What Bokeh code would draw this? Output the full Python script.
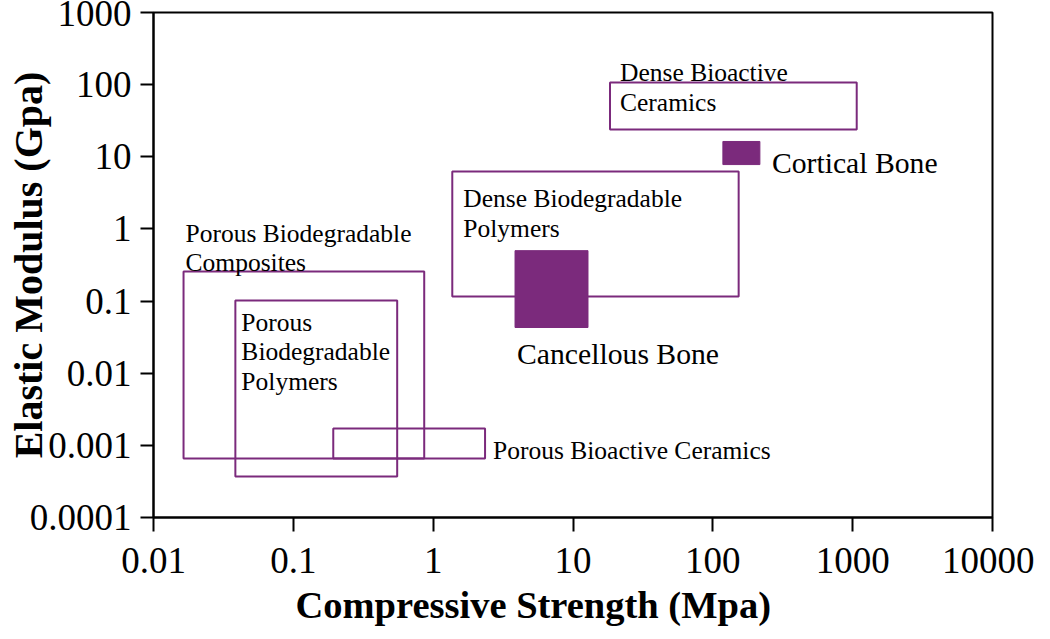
import math
from bokeh.plotting import figure
from bokeh.models import Range1d, FixedTicker, Label, Title
from bokeh.embed import file_html
from bokeh.resources import INLINE

# ---------------- data ----------------
x_ticks = [0.01, 0.1, 1, 10, 100, 1000, 10000]
x_tick_labels = ["0.01", "0.1", "1", "10", "100", "1000", "10000"]
y_ticks = [0.0001, 0.001, 0.01, 0.1, 1, 10, 100, 1000]
y_tick_labels = ["0.0001", "0.001", "0.01", "0.1", "1", "10", "100", "1000"]

region_names = ["Porous Biodegradable Composites", "Porous Biodegradable Polymers",
                "Porous Bioactive Ceramics", "Dense Biodegradable Polymers",
                "Cancellous Bone", "Dense Bioactive Ceramics", "Cortical Bone"]
strength_low = [0.0164, 0.0385, 0.193, 1.37, 3.85, 18.4, 118]
strength_high = [0.863, 0.553, 2.35, 153, 12.8, 1069, 217]
modulus_low = [0.000657, 0.00037, 0.000657, 0.116, 0.043, 23.9, 7.8]
modulus_high = [0.257, 0.102, 0.00171, 6.25, 0.50, 107, 16.3]
is_bone = [False, False, False, False, True, False, True]
label_lines = [["Porous Biodegradable", "Composites"],
               ["Porous", "Biodegradable", "Polymers"],
               ["Porous Bioactive Ceramics"],
               ["Dense Biodegradable", "Polymers"],
               ["Cancellous Bone"],
               ["Dense Bioactive", "Ceramics"],
               ["Cortical Bone"]]

x_title = "Compressive Strength (Mpa)"
y_title = "Elastic Modulus (Gpa)"

# ---------------- styles / layout ----------------
PURPLE = "#7b2a7c"
FONT = "Liberation Serif"
# anchor corner of the box, pixel offset (dx right, dy down) of first baseline, font size
label_style = [
    ("left", "top", 2, -38, "25.5px"),
    ("left", "top", 6, 22, "25.5px"),
    ("right", "bottom", 8, -8, "25.5px"),
    ("left", "top", 11, 27, "25.5px"),
    ("left", "bottom", 2, 26, "29.7px"),
    ("left", "top", 10, -10, "25.5px"),
    ("right", "bottom", 12, -2, "29.7px"),
]
LINE_H = 29.5

p = figure(width=1034, height=631, x_axis_type="log", y_axis_type="log",
           x_range=Range1d(x_ticks[0], x_ticks[-1]),
           y_range=Range1d(y_ticks[0], y_ticks[-1]),
           output_backend="svg", toolbar_location=None,
           min_border_left=153, min_border_right=42,
           min_border_top=12, min_border_bottom=114)
p.xgrid.visible = False
p.ygrid.visible = False
p.outline_line_color = "black"
p.outline_line_width = 2
p.outline_line_alpha = 1
p.background_fill_color = "white"
p.border_fill_color = "white"

for ax, ticks, labels, tick_len, standoff in ((p.xaxis[0], x_ticks, x_tick_labels, 14, 16),
                                              (p.yaxis[0], y_ticks, y_tick_labels, 13, 9)):
    ax.ticker = FixedTicker(ticks=ticks)
    ax.major_label_overrides = dict(zip(ticks, labels))
    ax.major_label_text_font = FONT
    ax.major_label_text_font_size = "37px"
    ax.major_label_text_color = "black"
    ax.axis_line_color = "black"
    ax.axis_line_width = 2
    ax.major_tick_line_color = "black"
    ax.major_tick_line_width = 2
    ax.major_tick_in = 0
    ax.major_tick_out = tick_len
    ax.minor_tick_line_color = None
    ax.major_label_standoff = standoff

# y axis title
p.yaxis[0].axis_label = y_title
p.yaxis[0].axis_label_text_font = FONT
p.yaxis[0].axis_label_text_font_size = "40px"
p.yaxis[0].axis_label_text_font_style = "bold"
p.yaxis[0].axis_label_text_color = "black"
p.yaxis[0].axis_label_standoff = -24

# x axis title
p.add_layout(Title(text=x_title, align="left", offset=142, standoff=12,
                   text_font=FONT, text_font_size="38.5px", text_font_style="bold",
                   text_color="black"), "below")

# boxes
open_idx = [i for i, b in enumerate(is_bone) if not b]
bone_idx = [i for i, b in enumerate(is_bone) if b]
p.quad(left=[strength_low[i] for i in open_idx], right=[strength_high[i] for i in open_idx],
       bottom=[modulus_low[i] for i in open_idx], top=[modulus_high[i] for i in open_idx],
       fill_color=None, line_color=PURPLE, line_width=2)
p.quad(left=[strength_low[i] for i in bone_idx], right=[strength_high[i] for i in bone_idx],
       bottom=[modulus_low[i] for i in bone_idx], top=[modulus_high[i] for i in bone_idx],
       fill_color=PURPLE, line_color=PURPLE, line_width=1)

# region labels
for i, lines in enumerate(label_lines):
    hx, vy, dx, dy, fs = label_style[i]
    ax_ = strength_low[i] if hx == "left" else strength_high[i]
    ay_ = modulus_high[i] if vy == "top" else modulus_low[i]
    for j, line in enumerate(lines):
        p.add_layout(Label(x=ax_, y=ay_, x_offset=dx, y_offset=-(dy + j * LINE_H),
                           text=line, text_font=FONT, text_font_size=fs,
                           text_color="black", text_align="left",
                           text_baseline="alphabetic"))

open("out.html", "w").write(file_html(p, INLINE))
